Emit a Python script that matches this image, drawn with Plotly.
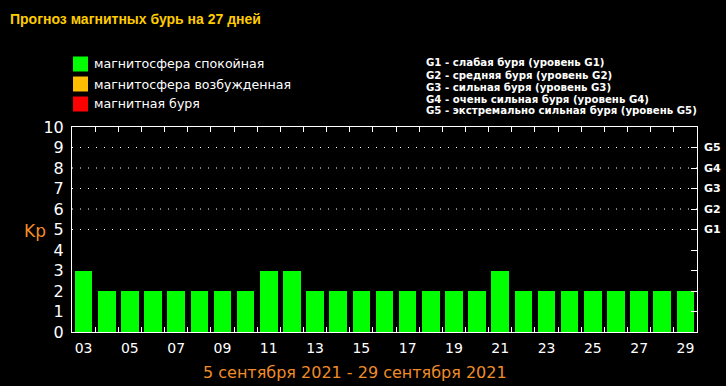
import plotly.graph_objects as go

days = list(range(3, 30))
kp_values = [3, 2, 2, 2, 2, 2, 2, 2, 3, 3, 2, 2, 2, 2, 2, 2, 2, 2, 3, 2, 2, 2, 2, 2, 2, 2, 2]
x_tick_days = list(range(3, 30, 2))
x_tick_labels = [f"{d:02d}" for d in x_tick_days]
y_ticks = list(range(0, 11))
g_levels = [5, 6, 7, 8, 9]
g_labels = ["G1", "G2", "G3", "G4", "G5"]
legend_items = ["магнитосфера спокойная", "магнитосфера возбужденная", "магнитная буря"]
legend_colors = ["#00ff00", "#ffbf00", "#ff0000"]
g_desc = [
    "G1 - слабая буря (уровень G1)",
    "G2 - средняя буря (уровень G2)",
    "G3 - сильная буря (уровень G3)",
    "G4 - очень сильная буря (уровень G4)",
    "G5 - экстремально сильная буря (уровень G5)",
]
title_text = "Прогноз магнитных бурь на 27 дней"
date_text = "5 сентября 2021 - 29 сентября 2021"

W, H = 726, 386
L, R, T, B = 72, 697, 127, 332


def px(x):
    return (x - L) / (R - L)


def py(y):
    return (B - y) / (B - T)


fig = go.Figure()
fig.add_trace(go.Bar(x=days, y=kp_values, marker=dict(color="#00ff00", line=dict(width=0)),
                     width=0.76, xaxis="x", yaxis="y", showlegend=False))
fig.add_trace(go.Scatter(x=[days[0]], y=[0], xaxis="x2", yaxis="y2", mode="markers",
                         marker=dict(opacity=0), showlegend=False, hoverinfo="skip"))

xr = [days[0] - 0.5, days[-1] + 0.5]
fig.update_layout(
    width=W, height=H,
    margin=dict(l=L, r=W - R, t=T, b=H - B, pad=0, autoexpand=False),
    paper_bgcolor="black", plot_bgcolor="black",
    bargap=0,
    font=dict(family="DejaVu Sans", color="white"),
    xaxis=dict(range=xr, tickvals=[d + 0.5 for d in days[:-1]], showticklabels=False,
               ticks="inside", ticklen=5, tickcolor="white", tickwidth=1,
               showline=True, linecolor="white", linewidth=1, mirror="ticks",
               showgrid=False, zeroline=False, fixedrange=True),
    xaxis2=dict(range=xr, overlaying="x", side="bottom", anchor="y", tickvals=x_tick_days,
                ticktext=x_tick_labels, ticks="", showline=False, showgrid=False,
                zeroline=False, ticklabelstandoff=6,
                tickfont=dict(size=14, color="white", family="DejaVu Sans")),
    yaxis=dict(range=[0, 10], tickvals=y_ticks, ticks="", showgrid=False, zeroline=False,
               showline=True, linecolor="white", linewidth=1, mirror=True,
               tickfont=dict(size=16, color="white", family="DejaVu Sans"), ticklabelstandoff=4),
    yaxis2=dict(range=[0, 10], overlaying="y", side="right", anchor="x",
                tickvals=list(range(1, 10)),
                ticktext=["", "", "", ""] + g_labels,
                ticks="inside", ticklen=6, tickcolor="white", showgrid=False, zeroline=False,
                showline=False,
                tickfont=dict(size=11, color="white", family="DejaVu Sans", weight="bold"),
                ticklabelstandoff=6),
)

for lv in g_levels:
    fig.add_shape(type="line", xref="paper", yref="y", x0=0, x1=1, y0=lv, y1=lv,
                  line=dict(color="white", width=1, dash="1px,7px"), layer="below")

ann = []
ann.append(dict(text=f"<b>{title_text}</b>", x=px(8), y=py(19), xanchor="left", yanchor="middle",
                font=dict(size=14, color="#ffcc00", family="Liberation Sans")))
for i, (txt, col) in enumerate(zip(legend_items, legend_colors)):
    yc = 64 + 20 * i
    fig.add_shape(type="rect", xref="paper", yref="paper", x0=px(73), x1=px(88),
                  y0=py(yc - 7.5), y1=py(yc + 7.5), fillcolor=col, line=dict(width=0))
    ann.append(dict(text=txt, x=px(92), y=py(yc), xanchor="left", yanchor="middle",
                    font=dict(size=12.6, color="white", family="DejaVu Sans")))
for i, txt in enumerate(g_desc):
    ann.append(dict(text=f"<b>{txt}</b>", x=px(424), y=py(63 + 12 * i), xanchor="left",
                    yanchor="middle", font=dict(size=10.2, color="white", family="DejaVu Sans")))
ann.append(dict(text="Kp", x=px(35), y=py(231), xanchor="center", yanchor="middle",
                font=dict(size=17, color="#f08c28", family="DejaVu Sans")))
ann.append(dict(text=date_text, x=px(355), y=py(372), xanchor="center", yanchor="middle",
                font=dict(size=16, color="#f08c28", family="DejaVu Sans")))
for a in ann:
    a.update(xref="paper", yref="paper", showarrow=False)
fig.update_layout(annotations=ann)

fig.write_html("out.html", config={"displayModeBar": False},
               post_script="document.body.style.margin='0px';document.body.style.background='black';")
